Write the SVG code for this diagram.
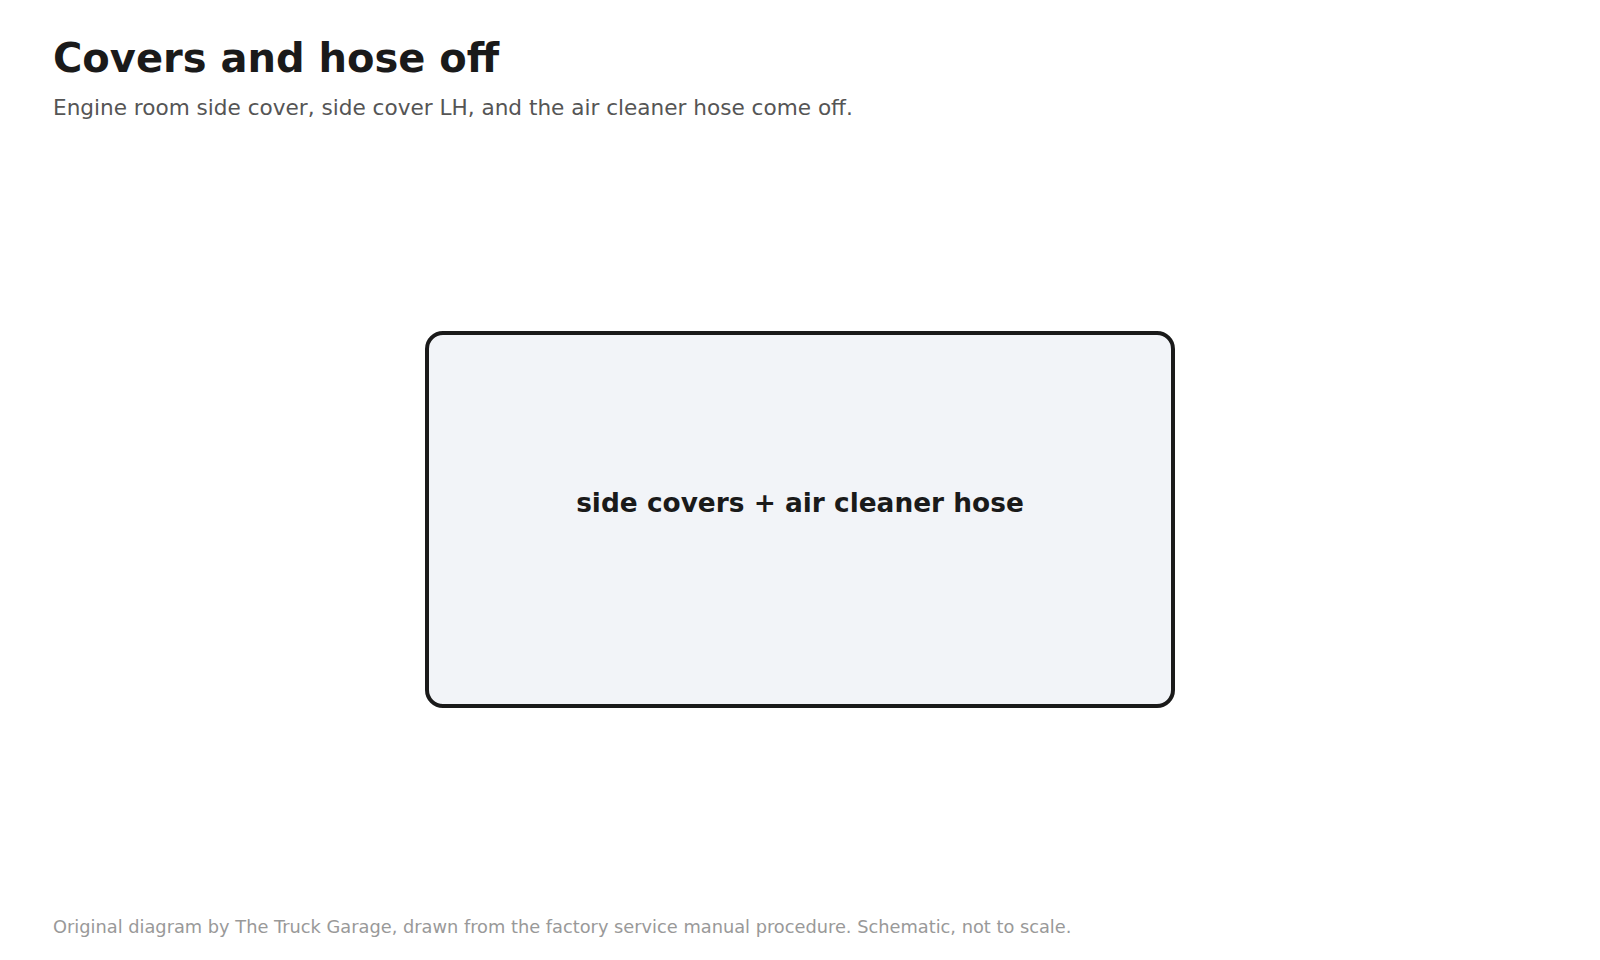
<svg xmlns="http://www.w3.org/2000/svg" width="1600" height="960" viewBox="0 0 1600 960">
<style>
.title{font-family:"DejaVu Sans",sans-serif;font-weight:bold;font-size:40px;fill:#1a1a1a}
.sub{font-family:"DejaVu Sans",sans-serif;font-size:21.6px;fill:#555555}
.foot{font-family:"DejaVu Sans",sans-serif;font-size:17.8px;fill:#999999}
.node rect{fill:#f2f4f8;stroke:#1a1a1a;stroke-width:4}
.node text{font-family:"DejaVu Sans",sans-serif;font-weight:bold;font-size:26.4px;fill:#1a1a1a;text-anchor:middle}
</style>
<rect width="1600" height="960" fill="#ffffff"/>
<text class="title" x="53" y="72">Covers and hose off</text>
<text class="sub" x="53" y="115">Engine room side cover, side cover LH, and the air cleaner hose come off.</text>
<g id="connectors"></g>
<g id="node-covers" class="node">
<rect x="427" y="333" width="746" height="373" rx="16"/>
<text x="800" y="512">side covers + air cleaner hose</text>
</g>
<text class="foot" x="53" y="933">Original diagram by The Truck Garage, drawn from the factory service manual procedure. Schematic, not to scale.</text>
</svg>
